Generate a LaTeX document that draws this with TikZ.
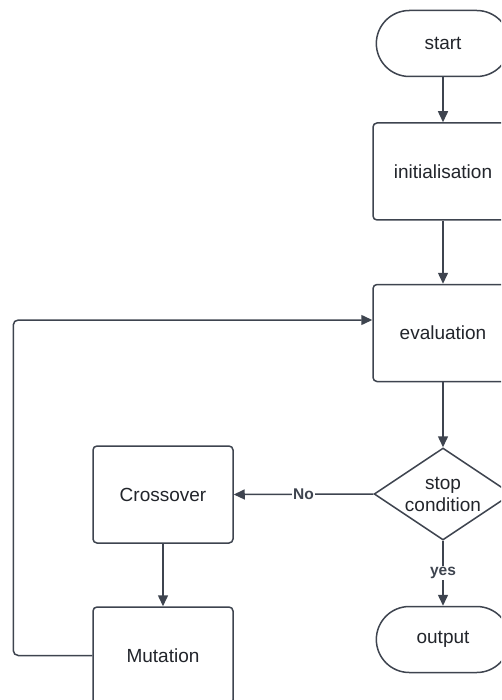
\documentclass[tikz,border=0pt]{standalone}
\usepackage{fontspec}
\setmainfont{Liberation Sans}
\usepackage{xcolor}
\usetikzlibrary{shapes.geometric,shapes.misc,arrows.meta}

\definecolor{linegray}{RGB}{62,68,79}
\definecolor{textgray}{RGB}{34,37,43}

\tikzset{
  box/.style={draw=linegray, line width=1.5pt, rounded corners=4pt, fill=white,
              minimum width=140pt, minimum height=97pt, text=textgray,
              font=\fontsize{19}{23}\selectfont},
  terminal/.style={draw=linegray, line width=1.5pt, rounded rectangle, fill=white,
              minimum width=140pt, minimum height=66pt, text=textgray,
              font=\fontsize{19}{23}\selectfont},
  decision/.style={draw=linegray, line width=1.5pt, diamond, aspect=1.5, inner sep=2pt,
              minimum width=136pt, minimum height=92pt,
              align=center, fill=white, text=textgray,
              font=\fontsize{19}{22}\selectfont},
  flow/.style={draw=linegray, line width=1.5pt, -{Triangle[length=11pt,width=10pt]}},
  flowlabel/.style={fill=white, inner sep=1pt, text=linegray,
              font=\fontsize{15.5}{18}\selectfont\bfseries}
}

\begin{document}
\begin{tikzpicture}[x=1pt, y=1pt]

    \useasboundingbox (0,0) rectangle (501,-700);
    \clip (0,0) rectangle (501,-700);

    % Main column
    \node[terminal] (start) at (443,-43.5) {start};
    \node[box] (init) at (443,-171.5) {initialisation};
    \node[box] (eval) at (443,-333) {evaluation};
    \node[decision] (stop) at (443,-494) {stop\\condition};
    \node[terminal] (output) at (443,-639.5) {output};

    % Variation operators
    \node[box] (cross) at (163,-494.5) {Crossover};
    \node[box] (mut) at (163,-655.5) {Mutation};

    % --------------------
    % Arrows
    % --------------------

    \draw[flow] (start.south) -- (init.north);
    \draw[flow] (init.south) -- (eval.north);
    \draw[flow] (eval.south) -- (stop.north);
    \draw[flow] (stop.south) -- node[flowlabel] {yes} (output.north);

    \draw[flow] (stop.west) -- node[flowlabel] {No} (cross.east);
    \draw[flow] (cross.south) -- (mut.north);

    % back to evaluation
    \coordinate (loopin) at ([yshift=13pt]eval.west);
    \draw[flow, rounded corners=5pt] (mut.west) -- ++(-79,0) |- (loopin);

\end{tikzpicture}
\end{document}
